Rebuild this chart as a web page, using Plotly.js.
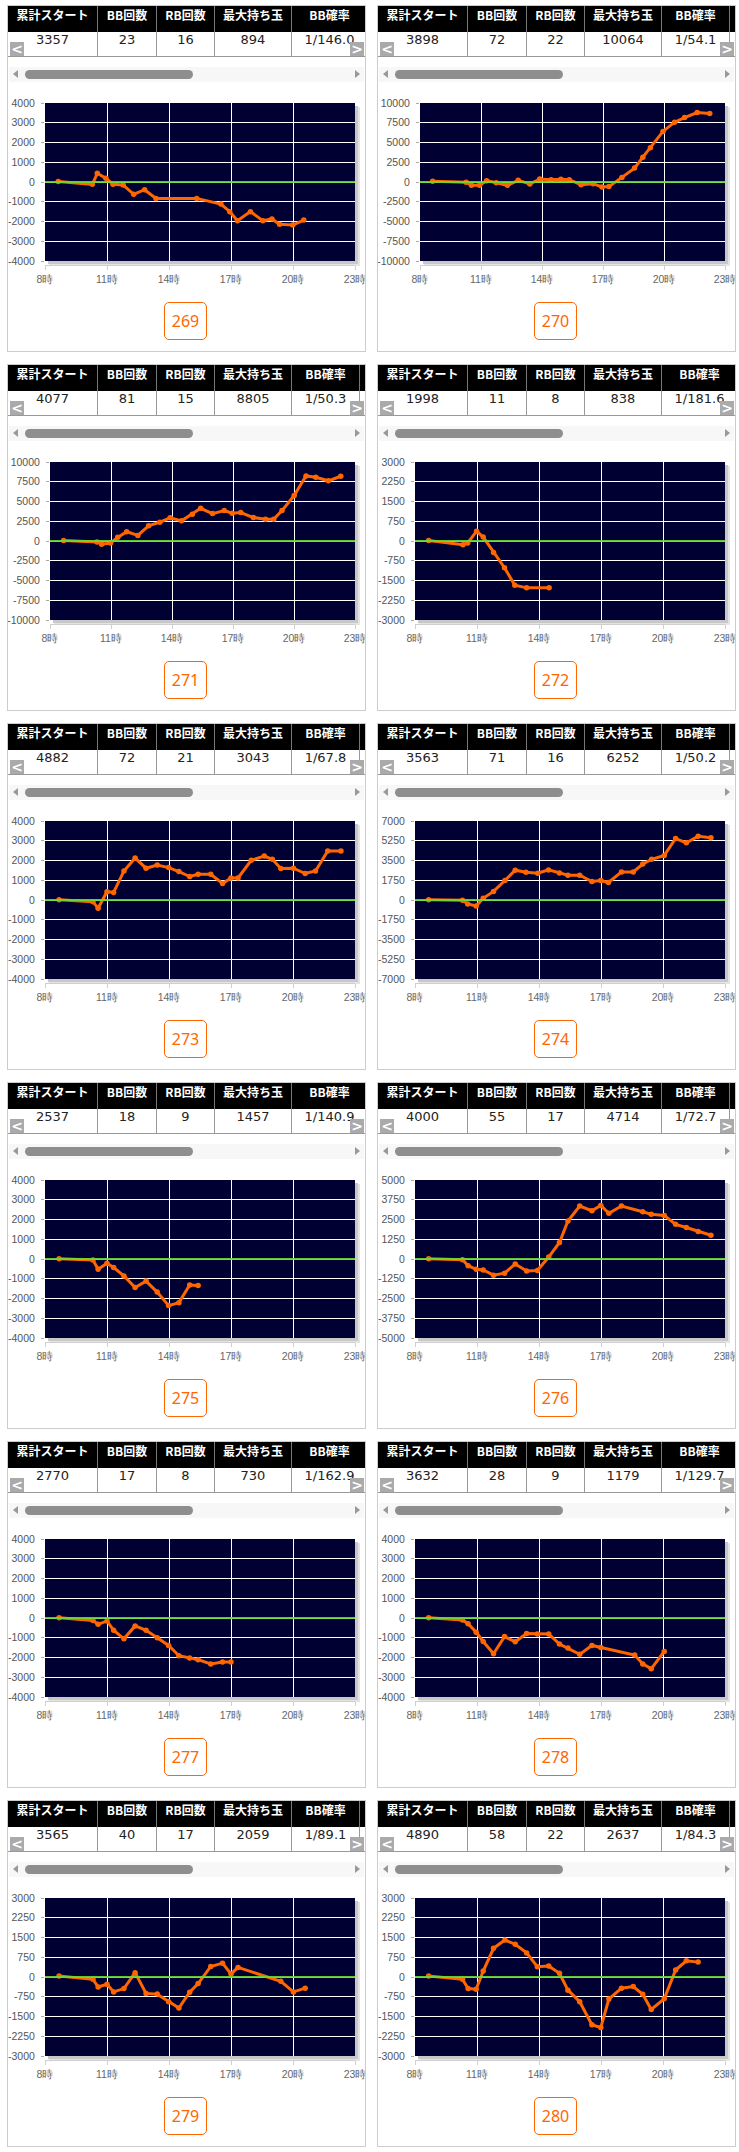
<!DOCTYPE html>
<html>
<head>
<meta charset="utf-8">
<script src="https://cdn.plot.ly/plotly-3.0.1.min.js"></script>
<style>
  body { margin: 0; background: #fff; width: 739px; height: 2152px; position: relative; overflow: hidden; }
  .panel { position: absolute; width: 359px; height: 347px; border: 1px solid #ccc; box-sizing: border-box; overflow: hidden; background: #fff; }
  .hcell { position: absolute; top: 0; height: 26px; line-height: 26px; background: #000; color: #fff;
           font: bold 12px "Noto Sans CJK JP", sans-serif; text-align: center; border-right: 1px solid #777;
           box-sizing: border-box; white-space: nowrap; overflow: hidden; }
  .dcell { position: absolute; top: 26px; height: 25px; line-height: 24px; color: #222; font: 13px "DejaVu Sans", sans-serif;
           text-align: center; border-right: 1px solid #999; border-bottom: 1px solid #999; box-sizing: border-box;
           white-space: nowrap; overflow: hidden; background: #fff; }
  .dcell.last { text-align: left; padding-left: 4px; border-right: 0; }
  .arrow { position: absolute; top: 36px; width: 14px; height: 14px; background: #aaa; color: #fff;
           font: bold 14px/14px "DejaVu Sans", sans-serif; text-align: center; }
  .track { position: absolute; left: 1px; top: 61px; width: 355px; height: 15px; background: #f7f7f7; }
  .thumb { position: absolute; left: 17px; top: 64px; width: 168px; height: 9px; border-radius: 5px; background: #8e8e8e; }
  .tri-l { position: absolute; left: 5px; top: 64px; width: 0; height: 0; border-top: 4.5px solid transparent;
           border-bottom: 4.5px solid transparent; border-right: 5px solid #999; }
  .tri-r { position: absolute; left: 347px; top: 64px; width: 0; height: 0; border-top: 4.5px solid transparent;
           border-bottom: 4.5px solid transparent; border-left: 5px solid #999; }
  .chart { position: absolute; left: 0; top: 89px; width: 357px; height: 206px; }
  .btn { position: absolute; left: 156px; top: 296px; width: 43px; height: 38px; box-sizing: border-box;
         border: 1px solid #ff6600; border-radius: 5px; color: #ff6600; font: 16px "Noto Sans", sans-serif;
         line-height: 36px; text-align: center; }
</style>
</head>
<body>
<script>
// machine numbers and the table row of each machine
const machineNos = [269, 270, 271, 272, 273, 274, 275, 276, 277, 278, 279, 280];
const totalStarts = [3357, 3898, 4077, 1998, 4882, 3563, 2537, 4000, 2770, 3632, 3565, 4890];
const bbCounts = [23, 72, 81, 11, 72, 71, 18, 55, 17, 28, 40, 58];
const rbCounts = [16, 22, 15, 8, 21, 16, 9, 17, 8, 9, 17, 22];
const maxBalls = [894, 10064, 8805, 838, 3043, 6252, 1457, 4714, 730, 1179, 2059, 2637];
const bbRates = ["1/146.0", "1/54.1", "1/50.3", "1/181.6", "1/67.8", "1/50.2",
                 "1/140.9", "1/72.7", "1/162.9", "1/129.7", "1/89.1", "1/84.3"];
const headers = ["累計スタート", "BB回数", "RB回数", "最大持ち玉", "BB確率"];

// y axis half range of each graph
const yMaxes = [4000, 10000, 10000, 3000, 4000, 7000, 4000, 5000, 4000, 4000, 3000, 3000];

const hourTicks = [8, 11, 14, 17, 20, 23];
const hourLabels = ["8時", "11時", "14時", "17時", "20時", "23時"];

// balls difference over the day (hour of day, value)
const hours269 = [8.64, 10.29, 10.53, 10.95, 11.29, 11.78, 12.29, 12.82, 13.37, 15.34, 16.51, 16.94, 17.31, 17.94, 18.54, 18.98, 19.35, 19.99, 20.52];
const diff269 = [20, -120, 440, 185, -120, -150, -625, -390, -830, -830, -1115, -1500, -1960, -1500, -1960, -1870, -2140, -2180, -1925];

const hours270 = [8.62, 10.27, 10.53, 10.93, 11.28, 11.75, 12.30, 12.83, 13.40, 13.89, 14.45, 14.93, 15.34, 15.92, 16.51, 16.95, 17.29, 17.93, 18.55, 18.96, 19.33, 19.95, 20.52, 21.01, 21.63, 22.25];
const diff270 = [80, -40, -420, -420, 170, -85, -420, 210, -250, 375, 290, 335, 290, -335, -210, -630, -585, 585, 1760, 3140, 4350, 6400, 7570, 8160, 8790, 8660];

const hours271 = [8.67, 10.31, 10.54, 10.98, 11.33, 11.77, 12.32, 12.85, 13.40, 13.91, 14.47, 15.00, 15.41, 15.99, 16.57, 16.96, 17.38, 18.00, 18.60, 19.00, 19.41, 20.01, 20.59, 21.07, 21.69, 22.30];
const diff271 = [50, -125, -420, -250, 460, 1170, 710, 1920, 2380, 2930, 2550, 3390, 4140, 3470, 3850, 3510, 3600, 2970, 2760, 2760, 3850, 5770, 8240, 8070, 7620, 8200];

const hours272 = [8.66, 10.32, 10.55, 10.98, 11.30, 11.80, 12.33, 12.83, 13.40, 14.49];
const diff272 = [15, -140, -75, 375, 150, -440, -1015, -1680, -1780, -1780];

const hours273 = [8.68, 10.32, 10.57, 11.00, 11.32, 11.82, 12.36, 12.89, 13.43, 13.98, 14.48, 15.00, 15.41, 16.02, 16.59, 17.00, 17.34, 17.98, 18.61, 19.00, 19.41, 20.02, 20.59, 21.09, 21.68, 22.32];
const diff273 = [15, -85, -420, 420, 385, 1470, 2125, 1610, 1775, 1640, 1440, 1190, 1305, 1305, 835, 1120, 1120, 2010, 2225, 2060, 1590, 1610, 1340, 1470, 2480, 2480];

const hours274 = [8.66, 10.30, 10.55, 10.96, 11.30, 11.80, 12.35, 12.85, 13.37, 13.94, 14.46, 14.99, 15.40, 15.97, 16.56, 16.99, 17.36, 17.99, 18.56, 19.02, 19.45, 20.06, 20.61, 21.13, 21.70, 22.32];
const diff274 = [30, -30, -350, -530, 150, 760, 1730, 2640, 2460, 2370, 2665, 2400, 2200, 2200, 1640, 1730, 1550, 2490, 2490, 3190, 3600, 3950, 5450, 5070, 5650, 5510];

const hours275 = [8.68, 10.32, 10.57, 11.00, 11.32, 11.82, 12.36, 12.89, 13.43, 13.98, 14.48, 15.00, 15.41];
const diff275 = [15, -50, -520, -220, -435, -855, -1440, -1120, -1675, -2360, -2210, -1320, -1340];

const hours276 = [8.66, 10.30, 10.57, 10.96, 11.30, 11.80, 12.33, 12.85, 13.40, 13.92, 14.47, 14.99, 15.40, 15.97, 16.56, 16.99, 17.38, 17.99, 19.02, 19.43, 20.06, 20.61, 21.13, 21.70, 22.32];
const diff276 = [20, -40, -420, -650, -690, -1025, -900, -315, -755, -730, 125, 1045, 2405, 3350, 3055, 3390, 2890, 3350, 2990, 2825, 2760, 2195, 1990, 1735, 1505];

const hours277 = [8.68, 10.32, 10.57, 11.00, 11.32, 11.82, 12.36, 12.89, 13.43, 13.98, 14.48, 15.00, 15.41, 16.02, 16.59, 17.00];
const diff277 = [15, -130, -320, -150, -620, -1055, -400, -620, -1005, -1390, -1910, -2025, -2110, -2325, -2225, -2225];

const hours278 = [8.66, 10.30, 10.57, 10.96, 11.30, 11.80, 12.33, 12.85, 13.40, 13.92, 14.47, 14.99, 15.40, 15.97, 16.56, 16.99, 18.63, 19.02, 19.43, 20.06];
const diff278 = [15, -100, -285, -720, -1190, -1810, -940, -1205, -785, -805, -805, -1320, -1525, -1840, -1390, -1490, -1875, -2325, -2575, -1690];

const hours279 = [8.68, 10.32, 10.57, 11.00, 11.32, 11.82, 12.36, 12.89, 13.43, 13.98, 14.48, 15.00, 15.41, 16.02, 16.59, 17.00, 17.34, 19.41, 20.02, 20.59];
const diff279 = [40, -90, -375, -275, -565, -440, 165, -625, -650, -940, -1180, -580, -250, 400, 525, 115, 365, -165, -565, -425];

const hours280 = [8.66, 10.30, 10.57, 10.96, 11.30, 11.80, 12.35, 12.85, 13.40, 13.92, 14.47, 14.99, 15.40, 15.97, 16.56, 16.99, 17.38, 17.99, 18.56, 19.02, 19.43, 20.06, 20.61, 21.13, 21.70];
const diff280 = [40, -90, -440, -465, 225, 1090, 1405, 1245, 915, 390, 415, 140, -500, -940, -1810, -1920, -840, -425, -365, -655, -1230, -830, 265, 615, 565];

const hourSeries = [hours269, hours270, hours271, hours272, hours273, hours274, hours275, hours276, hours277, hours278, hours279, hours280];
const diffSeries = [diff269, diff270, diff271, diff272, diff273, diff274, diff275, diff276, diff277, diff278, diff279, diff280];

const panelLefts = [7, 377];
const panelTops = [5, 364, 723, 1082, 1441, 1800];

function addDiv(parent, cls, css, text) {
  const d = document.createElement("div");
  d.className = cls;
  if (css) d.style.cssText = css;
  if (text !== undefined) d.textContent = text;
  parent.appendChild(d);
  return d;
}

function buildTable(panel, i) {
  const longRate = bbRates[i].length >= 7;
  // column edges, BB確率 gets wider when the value is long
  const edges = [0, 90, 149, 207, 284, longRate ? 360 : 352];
  const row = [totalStarts[i], bbCounts[i], rbCounts[i], maxBalls[i], bbRates[i]];
  for (let c = 0; c < 5; c++) {
    const css = `left:${edges[c]}px;width:${edges[c + 1] - edges[c]}px;`;
    addDiv(panel, "hcell", css, headers[c]);
    addDiv(panel, "dcell", css, row[c]);
  }
  // the next column only peeks in at the right edge
  if (!longRate) {
    addDiv(panel, "hcell", "left:352px;width:5px;border-right:0;");
    addDiv(panel, "dcell last", "left:352px;width:5px;", "1");
  }
  addDiv(panel, "arrow", "left:2px;", "<");
  addDiv(panel, "arrow", "left:342px;", ">");
  addDiv(panel, "track");
  addDiv(panel, "tri-l");
  addDiv(panel, "thumb");
  addDiv(panel, "tri-r");
}

function drawChart(div, hours, values, yMax) {
  const W = 357, H = 206;
  const step = yMax / 4;
  const yVals = [];
  const yText = [];
  for (let k = -4; k <= 4; k++) {
    yVals.push(k * step);
    yText.push(String(k * step));
  }
  const wide = yText.some((t) => t.length >= 6);
  const m = { l: wide ? 41.5 : 36.5, r: 10, t: 8, b: 36, pad: 0 };
  const plotW = W - m.l - m.r;
  const plotH = H - m.t - m.b;
  const yd0 = 4 / plotH; // x axis line sits a few px under the plot

  const trace = {
    x: hours,
    y: values,
    type: "scatter",
    mode: "lines+markers",
    line: { color: "#ff6600", width: 3 },
    marker: { color: "#ff6600", size: 5.5 },
    hoverinfo: "skip",
  };

  const layout = {
    width: W,
    height: H,
    margin: m,
    paper_bgcolor: "rgba(0,0,0,0)",
    plot_bgcolor: "rgba(0,0,0,0)",
    showlegend: false,
    xaxis: {
      range: [8, 23],
      domain: [0, 1],
      anchor: "free",
      position: 0,
      tickvals: hourTicks,
      ticktext: hourLabels,
      ticklabeloverflow: "allow",
      showgrid: true,
      gridcolor: "#ffffff",
      gridwidth: 1,
      zeroline: false,
      showline: true,
      linecolor: "#cfcfcf",
      ticks: "outside",
      ticklen: 4,
      tickcolor: "#cfcfcf",
      tickfont: { family: "Liberation Sans, Arial, sans-serif", size: 10.5, color: "#666" },
    },
    yaxis: {
      range: [-yMax, yMax],
      domain: [yd0, 1],
      tickvals: yVals,
      ticktext: yText,
      showgrid: true,
      gridcolor: "#ffffff",
      gridwidth: 1,
      zeroline: false,
      showline: false,
      ticks: "outside",
      ticklen: 3,
      tickcolor: "#aaa",
      ticklabelstandoff: 4,
      tickfont: { family: "Liberation Sans, Arial, sans-serif", size: 10.5, color: "#555" },
    },
    shapes: [
      // soft drop shadow of the plot box
      {
        type: "rect", xref: "paper", yref: "paper", layer: "below",
        x0: 4 / plotW, x1: 1 + 5 / plotW, y0: yd0 - 5 / plotH, y1: 1 - 4 / plotH,
        fillcolor: "#e4e4e4", line: { width: 0 },
      },
      {
        type: "rect", xref: "paper", yref: "paper", layer: "below",
        x0: 3 / plotW, x1: 1 + 3 / plotW, y0: yd0 - 3 / plotH, y1: 1 - 3 / plotH,
        fillcolor: "#c8c8c8", line: { width: 0 },
      },
      {
        type: "rect", xref: "paper", yref: "paper", layer: "below",
        x0: 0, x1: 1, y0: yd0, y1: 1,
        fillcolor: "#000033", line: { width: 0 },
      },
      // zero line
      {
        type: "line", xref: "paper", yref: "y", layer: "above",
        x0: 0, x1: 1, y0: 0, y1: 0,
        line: { color: "#66dd33", width: 2 },
        opacity: 0.9,
      },
    ],
  };

  Plotly.newPlot(div, [trace], layout, { staticPlot: true, displayModeBar: false });
}

machineNos.forEach((no, i) => {
  const panel = document.createElement("div");
  panel.className = "panel";
  panel.style.left = panelLefts[i % 2] + "px";
  panel.style.top = panelTops[Math.floor(i / 2)] + "px";
  document.body.appendChild(panel);

  buildTable(panel, i);
  const chartDiv = addDiv(panel, "chart");
  addDiv(panel, "btn", "", String(no));
  drawChart(chartDiv, hourSeries[i], diffSeries[i], yMaxes[i]);
});
</script>
</body>
</html>
